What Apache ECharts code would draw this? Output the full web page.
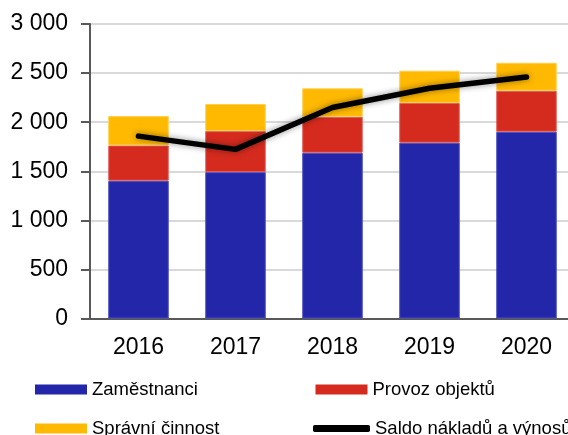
<!DOCTYPE html>
<html>
<head>
<meta charset="utf-8">
<script src="https://cdn.jsdelivr.net/npm/echarts@6/dist/echarts.min.js"></script>
<style>
  html, body { margin: 0; padding: 0; background: #fff; }
  #chart { width: 568px; height: 435px; }
</style>
</head>
<body>
<div id="chart"></div>
<script>
// data
var years = ['2016', '2017', '2018', '2019', '2020'];
var zamestnanci = [1403, 1491, 1688, 1790, 1902];
var provozObjektu = [360, 418, 367, 405, 418];
var spravniCinnost = [299, 276, 290, 329, 285];
var saldo = [1858, 1723, 2150, 2345, 2460];

var font = '"Liberation Sans", Arial, sans-serif';

function legendItem(name, left, top, icon, w, h) {
  return {
    data: [{ name: name, icon: icon }],
    left: left, top: top,
    padding: 0,
    itemWidth: w, itemHeight: h,
    itemGap: 0,
    selectedMode: false,
    itemStyle: { borderWidth: 0 },
    textStyle: { fontFamily: font, fontSize: 18.5, color: '#000', lineHeight: 19 }
  };
}

var chart = echarts.init(document.getElementById('chart'));
chart.setOption({
  animation: false,
  textStyle: { fontFamily: font },
  grid: { left: 90, top: 24, width: 485, height: 294.5, outerBoundsMode: 'none' },
  legend: [
    legendItem('Zaměstnanci', 35, 380, 'rect', 52, 10),
    legendItem('Provoz objektů', 315.5, 380, 'rect', 52, 10),
    legendItem('Správní činnost', 35, 419, 'rect', 52, 10),
    legendItem('Saldo nákladů a výnosů', 313, 419, 'roundRect', 57, 7)
  ],
  xAxis: {
    type: 'category',
    data: years,
    axisLine: { lineStyle: { color: '#595959', width: 2 } },
    axisTick: { show: false },
    axisLabel: { fontSize: 23, color: '#000', margin: 18, fontFamily: font }
  },
  yAxis: {
    type: 'value',
    min: 0, max: 3000, interval: 500,
    axisLine: { show: true, lineStyle: { color: '#595959', width: 2 } },
    axisTick: { show: true, length: 9, lineStyle: { color: '#595959', width: 2 } },
    splitLine: { lineStyle: { color: '#d9d9d9', width: 2 } },
    axisLabel: {
      fontSize: 23, color: '#000', margin: 22, fontFamily: font,
      formatter: function (v) { return String(v).replace(/\B(?=(\d{3})+(?!\d))/g, ' '); }
    }
  },
  series: [
    {
      name: 'Zaměstnanci', type: 'bar', stack: 'a',
      data: zamestnanci, barCategoryGap: '37.6%',
      itemStyle: { color: '#2326a8', borderColor: '#4a4fc0', borderWidth: 1 }
    },
    {
      name: 'Provoz objektů', type: 'bar', stack: 'a',
      data: provozObjektu,
      itemStyle: { color: '#d52b1e', borderColor: '#e0605a', borderWidth: 1 }
    },
    {
      name: 'Správní činnost', type: 'bar', stack: 'a',
      data: spravniCinnost,
      itemStyle: { color: '#ffb900', borderColor: '#ffd04d', borderWidth: 1 }
    },
    {
      name: 'Saldo nákladů a výnosů', type: 'line',
      data: saldo, symbol: 'none', z: 5,
      itemStyle: { color: '#000' },
      lineStyle: {
        color: '#000', width: 5.5, cap: 'round', join: 'round',
        shadowColor: 'rgba(0,0,0,0.45)', shadowBlur: 6
      }
    }
  ]
});
</script>
</body>
</html>
